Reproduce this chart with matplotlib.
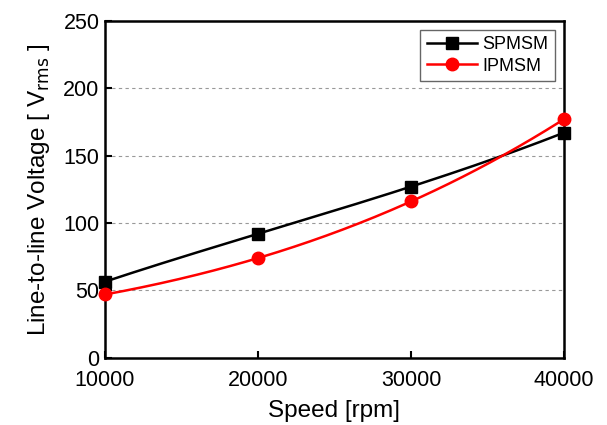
import numpy as np
import matplotlib
matplotlib.use("Agg")
import matplotlib.pyplot as plt

speed = [10000, 20000, 30000, 40000]
spmsm = [56.5, 92, 127, 167]
ipmsm = [47, 74, 116, 177]

plt.rcParams["font.family"] = ["Liberation Sans", "DejaVu Sans"]

fig = plt.figure(figsize=(6.07, 4.25), dpi=100)
ax = fig.add_axes([0.173, 0.158, 0.756, 0.793])

def smooth(x, y):
    # interpolating polynomial through the points, for a smooth line like the original
    c = np.polyfit(x, y, len(x) - 1)
    xs = np.linspace(min(x), max(x), 200)
    return xs, np.polyval(c, xs)

for y, col, mk, ms, lab in ((spmsm, "black", "s", 8, "SPMSM"), (ipmsm, "#ff0000", "o", 9, "IPMSM")):
    xs, ys = smooth(speed, y)
    ax.plot(xs, ys, color=col, lw=1.8, zorder=3)
    ax.plot(speed, y, ls="none", marker=mk, ms=ms, color=col, zorder=4, clip_on=False)
    ax.plot([], [], color=col, lw=1.8, marker=mk, ms=ms, label=lab)

ax.set_xlim(10000, 40000)
ax.set_ylim(0, 250)
ax.set_xticks([10000, 20000, 30000, 40000])
ax.set_yticks([0, 50, 100, 150, 200, 250])
for v in [50, 100, 150, 200]:
    ax.axhline(v, color="#999999", lw=0.8, ls=(0, (3, 3)), zorder=1)

ax.tick_params(direction="in", length=5, width=1.5, labelsize=15.5, pad=4)
ax.tick_params(axis="x", pad=9)
for s in ax.spines.values():
    s.set_linewidth(1.8)

ax.set_xlabel("Speed [rpm]", fontsize=17.5, labelpad=6)
ax.set_ylabel("Line-to-line Voltage [ V$_{\\mathrm{rms}}$ ]", fontsize=17.5, labelpad=8)

leg = ax.legend(loc="upper right", fontsize=13, frameon=True, fancybox=False,
                edgecolor="#666666", framealpha=1, handlelength=2.8,
                borderaxespad=0.5, labelspacing=0.25, handletextpad=0.3,
                borderpad=0.35)
leg.get_frame().set_linewidth(1.0)

fig.savefig("out.png", dpi=100)
